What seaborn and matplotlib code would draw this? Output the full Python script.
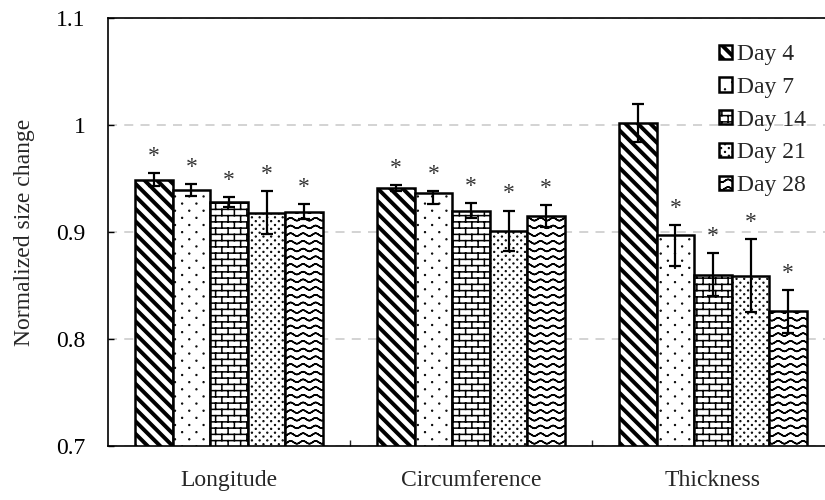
import numpy as np
import pandas as pd
import matplotlib
matplotlib.use("Agg")
import matplotlib.pyplot as plt
import matplotlib.hatch as mhatch
from matplotlib.path import Path
import seaborn as sns

# ---------------- data ----------------
measures = ["Longitude", "Circumference", "Thickness"]
days = ["Day 4", "Day 7", "Day 14", "Day 21", "Day 28"]

day4 = [0.949, 0.941, 1.002]
day7 = [0.939, 0.936, 0.897]
day14 = [0.928, 0.920, 0.860]
day21 = [0.918, 0.901, 0.859]
day28 = [0.919, 0.915, 0.826]

day4_err_lo = [0.006, 0.003, 0.018]
day4_err_hi = [0.006, 0.003, 0.018]
day7_err_lo = [0.0055, 0.010, 0.029]
day7_err_hi = [0.0055, 0.002, 0.0095]
day14_err_lo = [0.005, 0.007, 0.020]
day14_err_hi = [0.005, 0.007, 0.020]
day21_err_lo = [0.020, 0.019, 0.034]
day21_err_hi = [0.020, 0.019, 0.034]
day28_err_lo = [0.007, 0.010, 0.020]
day28_err_hi = [0.007, 0.010, 0.020]

day4_sig = [True, True, False]
day7_sig = [True, True, True]
day14_sig = [True, True, True]
day21_sig = [True, True, True]
day28_sig = [True, True, True]

yticks = [0.7, 0.8, 0.9, 1.0, 1.1]
ytick_labels = ["0.7", "0.8", "0.9", "1", "1.1"]

values = [day4, day7, day14, day21, day28]
errs_lo = [day4_err_lo, day7_err_lo, day14_err_lo, day21_err_lo, day28_err_lo]
errs_hi = [day4_err_hi, day7_err_hi, day14_err_hi, day21_err_hi, day28_err_hi]
sigs = [day4_sig, day7_sig, day14_sig, day21_sig, day28_sig]

# ---------------- custom hatch patterns ----------------
MOVETO, LINETO, CLOSEPOLY = Path.MOVETO, Path.LINETO, Path.CLOSEPOLY


class DiagStripes:
    n = 8
    w = 0.034

    def __init__(self, hatch, density):
        self.on = "\\" in hatch
        self.num_vertices = (2 * self.n + 1) * 5 if self.on else 0

    def set_vertices_and_codes(self, vertices, codes):
        n, w = self.n, self.w
        pts = []
        for s in np.arange(-n, n + 1) / n:
            pts += [(s, 1.0), (s + w, 1.0), (s + w + 1.0, 0.0), (s + 1.0, 0.0), (s, 1.0)]
        vertices[:] = pts
        codes[:] = np.tile([MOVETO, LINETO, LINETO, LINETO, CLOSEPOLY], 2 * n + 1)


def make_dots(ch, ncol, nrow, r):
    class Dots:
        def __init__(self, hatch, density):
            self.on = ch in hatch
            self.num_vertices = ncol * nrow * 7 if self.on else 0

        def set_vertices_and_codes(self, vertices, codes):
            ang = np.linspace(0, 2 * np.pi, 7)[:-1]
            shape = np.c_[np.cos(ang), np.sin(ang)] * r
            pts, cds = [], []
            for k in range(nrow):
                y = (k + 0.5) / nrow
                for j in range(ncol):
                    x = (j + 0.25 + 0.5 * (k % 2)) / ncol
                    pts.extend(shape + [x, y])
                    pts.append([x + r, y])
                    cds.extend([MOVETO] + [LINETO] * 5 + [CLOSEPOLY])
            vertices[:] = pts
            codes[:] = cds
    return Dots


class Bricks:
    nrow = 16
    ncol = 8

    def __init__(self, hatch, density):
        self.on = "+" in hatch
        self.num_vertices = (self.nrow * 2 + (self.nrow + 1) * self.ncol * 2) if self.on else 0

    def set_vertices_and_codes(self, vertices, codes):
        nrow, ncol = self.nrow, self.ncol
        pts, cds = [], []
        for k in range(nrow):
            y = (k + 0.5) / nrow
            pts += [(0.0, y), (1.0, y)]
            cds += [MOVETO, LINETO]
        for k in range(-1, nrow):
            y0 = (k + 0.5) / nrow
            y1 = (k + 1.5) / nrow
            for j in range(ncol):
                x = (j + 0.25 + 0.5 * (k % 2)) / ncol
                pts += [(x, y0), (x, y1)]
                cds += [MOVETO, LINETO]
        vertices[:] = pts
        codes[:] = cds


class Waves:
    nrow = 13
    nwave = 8
    npts = 8 * 12 + 1
    amp = 0.014

    def __init__(self, hatch, density):
        self.on = "|" in hatch
        self.num_vertices = self.nrow * self.npts * 2 if self.on else 0

    def set_vertices_and_codes(self, vertices, codes):
        pts, cds = [], []
        x = np.linspace(0, 1, self.npts)
        for k in range(self.nrow):
            y0 = (k + 0.5) / self.nrow
            y = y0 + self.amp * np.sin(2 * np.pi * self.nwave * x)
            fwd = np.c_[x, y]
            seg = np.vstack([fwd, fwd[::-1]])
            pts.extend(seg)
            cds += [MOVETO] + [LINETO] * (len(seg) - 1)
        vertices[:] = pts
        codes[:] = cds


_custom_hatches = [DiagStripes, make_dots("o", 7, 14, 0.004),
                   make_dots("O", 13, 26, 0.004), Bricks, Waves]
if hasattr(mhatch, "_hatch_types"):
    mhatch._hatch_types[:] = _custom_hatches
    hatches = ["\\", "o", "+", "O", "|"]
else:
    hatches = ["\\\\\\", ".", "+", "..", "|"]

# ---------------- style ----------------
sns.set_style("white")
plt.rcParams["font.family"] = ["Liberation Serif", "DejaVu Serif"]
plt.rcParams["hatch.linewidth"] = 1.1
plt.rcParams["hatch.color"] = "black"
plt.rcParams["axes.edgecolor"] = "black"

FS = 17

fig = plt.figure(figsize=(8.25, 5), dpi=100)
ax = fig.add_axes([108 / 825, 54 / 500, 726 / 825, 428 / 500])

df = pd.DataFrame({
    "Measure": np.tile(measures, len(days)),
    "Day": np.repeat(days, len(measures)),
    "value": np.concatenate(values),
})

sns.barplot(data=df, x="Measure", y="value", hue="Day", order=measures,
            hue_order=days, palette=["white"] * len(days), saturation=1,
            edgecolor="black", linewidth=1.8, width=0.775, gap=0,
            errorbar=None, legend=False, ax=ax)

bar_conts = list(ax.containers)[:len(days)]
for cont, h in zip(bar_conts, hatches):
    for p in cont:
        p.set_hatch(h)

# legend (before error bars so only bars are used)
ax.legend(bar_conts, days, loc="upper left",
          bbox_to_anchor=(719 / 825, 1 - 44 / 500), bbox_transform=fig.transFigure,
          frameon=False, borderpad=0, borderaxespad=0, handlelength=0.55,
          handleheight=0.55, handletextpad=0.2, labelspacing=0.5, fontsize=FS)

# error bars and asterisks
for cont, vals, elo, ehi, sg in zip(bar_conts, values, errs_lo, errs_hi, sigs):
    xs = [p.get_x() + p.get_width() / 2 for p in cont]
    ax.errorbar(xs, vals, yerr=[elo, ehi], fmt="none", ecolor="black",
                elinewidth=1.6, capsize=4.3, capthick=1.6, zorder=5)
    for x, v, e, s in zip(xs, vals, ehi, sg):
        if s:
            ax.annotate("*", xy=(x, v + e), xytext=(0, 8), textcoords="offset points",
                        ha="center", va="baseline", fontsize=FS, color="#333333")

# axes
ax.set_xlim(-0.5, 2.5)
ax.set_ylim(0.7, 1.1)
ax.set_yticks(yticks)
ax.set_yticklabels(ytick_labels)
ax.tick_params(axis="y", direction="in", length=4, width=1, pad=16,
               labelsize=FS, colors="black", left=True)
ax.set_xticks([0.5, 1.5])
ax.set_xticklabels([])
ax.set_xticks([0, 1, 2], minor=True)
ax.set_xticklabels(measures, minor=True)
ax.tick_params(axis="x", which="major", direction="in", length=4, width=1, bottom=True)
ax.tick_params(axis="x", which="minor", length=0, pad=17, labelsize=FS, bottom=True)
ax.set_xlabel("")
ax.set_ylabel("Normalized size change", fontsize=FS, va="center")
ax.yaxis.set_label_coords((25 - 108) / 726, 0.5)

for side in ["left", "top", "bottom"]:
    ax.spines[side].set_visible(True)
    ax.spines[side].set_linewidth(1.2)
    ax.spines[side].set_color("black")
ax.spines["right"].set_visible(False)

ax.grid(axis="y", color="#d0d0d0", linestyle=(0, (5, 4)), linewidth=1.3)
ax.grid(axis="x", visible=False)
ax.set_axisbelow(True)

fig.savefig("out.png", dpi=100)
